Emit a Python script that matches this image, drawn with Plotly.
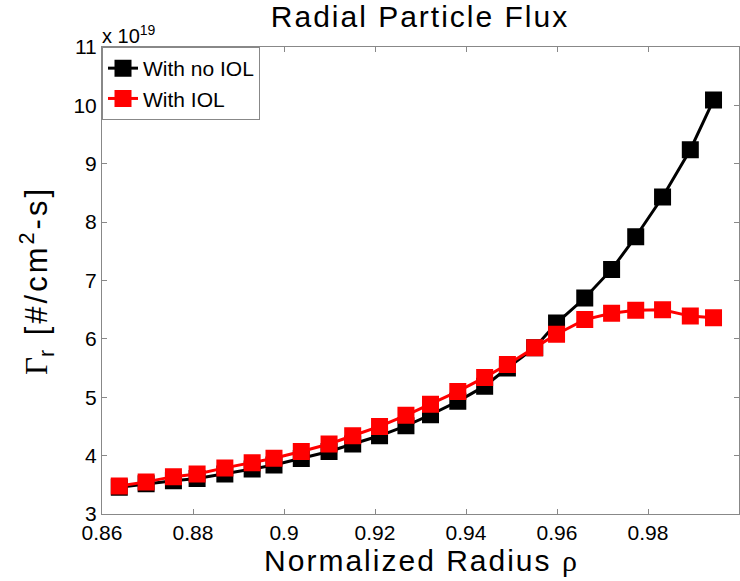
import plotly.graph_objects as go

rho = [0.8638, 0.8697, 0.8757, 0.8809, 0.8870, 0.8930, 0.8978, 0.9038, 0.9099,
       0.9151, 0.9210, 0.9268, 0.9322, 0.9382, 0.9441, 0.9491, 0.9551, 0.9599,
       0.9661, 0.9720, 0.9773, 0.9832, 0.9893, 0.9944]
flux_no_iol = [3.46, 3.52, 3.57, 3.61, 3.685, 3.77, 3.84, 3.95, 4.07, 4.20, 4.34,
               4.51, 4.70, 4.93, 5.19, 5.50, 5.85, 6.27, 6.70, 7.19, 7.75, 8.43,
               9.24, 10.09]
flux_iol = [3.48, 3.55, 3.64, 3.685, 3.79, 3.88, 3.955, 4.07, 4.20, 4.34, 4.50,
            4.69, 4.88, 5.10, 5.34, 5.56, 5.85, 6.08, 6.33, 6.44, 6.49, 6.50,
            6.39, 6.36]
x_ticks = [0.86, 0.88, 0.9, 0.92, 0.94, 0.96, 0.98, 1]
x_tick_labels = ["0.86", "0.88", "0.9", "0.92", "0.94", "0.96", "0.98", "1"]
y_ticks = [3, 4, 5, 6, 7, 8, 9, 10, 11]

FONT = "Liberation Sans, Arial, sans-serif"
SERIF = "Liberation Serif, Times New Roman, serif"

fig = go.Figure()
fig.add_trace(go.Scatter(
    x=rho, y=flux_no_iol, mode="lines+markers", name="With no IOL",
    line=dict(color="black", width=3),
    marker=dict(symbol="square", size=15, color="black",
                line=dict(color="black", width=2)),
))
fig.add_trace(go.Scatter(
    x=rho, y=flux_iol, mode="lines+markers", name="With IOL",
    line=dict(color="#ff0000", width=3),
    marker=dict(symbol="square", size=15, color="#ff0000",
                line=dict(color="#ff0000", width=2)),
))

axis_common = dict(
    showline=True, linecolor="#888888", linewidth=1, mirror="ticks",
    ticks="inside", ticklen=5, tickcolor="#888888", showgrid=False,
    zeroline=False, tickfont=dict(family=FONT, size=21, color="black"),
)

fig.update_layout(
    width=740, height=581,
    margin=dict(l=102, r=1, t=47, b=67),
    plot_bgcolor="white", paper_bgcolor="white",
    title=dict(text="<span style='letter-spacing:2px'>Radial Particle Flux</span>",
               x=420 / 740, xref="container", xanchor="center",
               y=0.972, yref="container", yanchor="middle",
               font=dict(family=FONT, size=30, color="black")),
    xaxis=dict(range=[0.86, 1], tickvals=x_ticks, ticktext=x_tick_labels,
               title=dict(text="<span style='letter-spacing:2px'>Normalized Radius </span>"
                               "<span style='font-family:" + SERIF + "'>ρ</span>",
                          font=dict(family=FONT, size=30, color="black"), standoff=2),
               **axis_common),
    yaxis=dict(range=[3, 11], tickvals=y_ticks,
               title=dict(text="<span style='font-family:" + SERIF + "'>Γ</span>"
                               "<span style='letter-spacing:3px'><sub>r</sub> [#/cm<sup>2</sup>-s]</span>",
                          font=dict(family=FONT, size=31, color="black"), standoff=16),
               **axis_common),
    legend=dict(x=0, y=1, xanchor="left", yanchor="top",
                bgcolor="white", bordercolor="#888888", borderwidth=1,
                font=dict(family=FONT, size=21, color="black"),
                itemwidth=30, tracegroupgap=0),
    showlegend=True,
)

fig.add_annotation(text="x 10<sup>19</sup>", xref="paper", yref="paper",
                   x=0, y=1, xanchor="left", yanchor="bottom", showarrow=False,
                   font=dict(family=FONT, size=20, color="black"),
                   xshift=-2, yshift=-2)

fig.write_html("out.html")
